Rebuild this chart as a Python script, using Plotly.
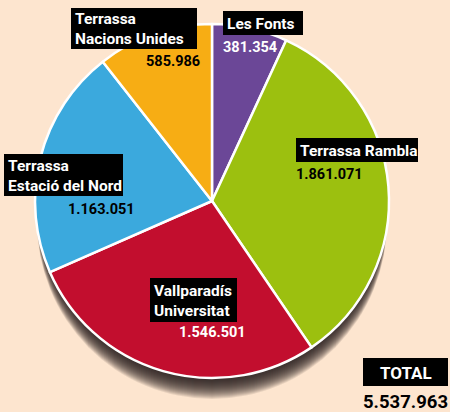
import plotly.graph_objects as go

W, H = 450, 412

categories = ["Les Fonts", "Terrassa Rambla", "Vallparadís Universitat",
              "Terrassa Estació del Nord", "Terrassa Nacions Unides"]
box_labels = ["Les Fonts", "Terrassa Rambla", "Vallparadís<br>Universitat",
              "Terrassa<br>Estació del Nord", "Terrassa<br>Nacions Unides"]
values = [381354, 1861071, 1546501, 1163051, 585986]
colors = ["#6B4797", "#9CC00F", "#C20E2E", "#3BA9DD", "#F7AD14"]
total_label = "TOTAL"
total_value = sum(values)

def fmt(v):
    return f"{v:,}".replace(",", ".")

# pie geometry (pixels)
cx, cy, r = 212, 201, 177

def px(x):
    return x / W

def py(y):
    return 1 - y / H

fig = go.Figure()
fig.add_trace(go.Pie(
    labels=categories, values=values, sort=False, direction="clockwise",
    rotation=0, marker=dict(colors=colors, line=dict(color="white", width=2.5)),
    textinfo="none", hoverinfo="label+value", showlegend=False,
    domain=dict(x=[px(cx - r), px(cx + r)], y=[py(cy + r), py(cy - r)]),
))

shapes = []
# soft drop shadow under the pie
for off in range(1, 22):
    shapes.append(dict(type="circle", xref="paper", yref="paper", layer="below",
                       x0=px(cx - r + 2), x1=px(cx + r - 2),
                       y0=py(cy + r + off), y1=py(cy - r + off),
                       fillcolor="rgba(35,30,25,0.1)", line=dict(width=0)))

FONT = "Roboto, sans-serif"

# label boxes (left, top, right, bottom in pixels)
boxes = [(223, 11, 303, 35), (296, 138, 418, 162), (150, 278, 237, 322),
         (4, 154, 123, 196), (71, 8, 197, 49)]
val_pos = [(223, 48, "white"), (296, 174, "black"), (179, 332, "white"),
           (68, 209, "black"), (146, 62, "black")]

ann = []
for lab, (x0, y0, x1, y1) in zip(box_labels, boxes):
    shapes.append(dict(type="rect", xref="paper", yref="paper", layer="above",
                       x0=px(x0), x1=px(x1), y0=py(y1), y1=py(y0),
                       fillcolor="black", line=dict(width=0)))
    ann.append(dict(text=f"<b>{lab}</b>", x=px(x0 + 4), y=py((y0 + y1) / 2 + 0.5),
                    xref="paper", yref="paper", xanchor="left", yanchor="middle",
                    align="left", showarrow=False, borderpad=0, borderwidth=0,
                    font=dict(family=FONT, size=15.5, color="white")))
for v, (vx, vy, c) in zip(values, val_pos):
    ann.append(dict(text=f"<b>{fmt(v)}</b>", x=px(vx), y=py(vy), xref="paper", yref="paper",
                    xanchor="left", yanchor="middle", showarrow=False,
                    borderpad=0, borderwidth=0,
                    font=dict(family=FONT, size=14.5, color=c)))

shapes.append(dict(type="rect", xref="paper", yref="paper", layer="above",
                   x0=px(363), x1=px(448), y0=py(386), y1=py(358),
                   fillcolor="black", line=dict(width=0)))
ann.append(dict(text=f"<b>{total_label}</b>", x=px(405.5), y=py(372.5), xref="paper", yref="paper",
                xanchor="center", yanchor="middle", showarrow=False,
                borderpad=0, borderwidth=0,
                font=dict(family=FONT, size=17, color="white")))
ann.append(dict(text=f"<b>{fmt(total_value)}</b>", x=px(405), y=py(401.5), xref="paper", yref="paper",
                xanchor="center", yanchor="middle", showarrow=False,
                borderpad=0, borderwidth=0,
                font=dict(family=FONT, size=18.5, color="black")))

fig.update_layout(width=W, height=H, margin=dict(l=0, r=0, t=0, b=0),
                  paper_bgcolor="#FDE5CF", plot_bgcolor="#FDE5CF",
                  shapes=shapes, annotations=ann)
fig.write_html("out.html", config={"displayModeBar": False},
               post_script="document.body.style.margin='0';document.body.style.overflow='hidden';document.body.style.background='#FDE5CF';")
